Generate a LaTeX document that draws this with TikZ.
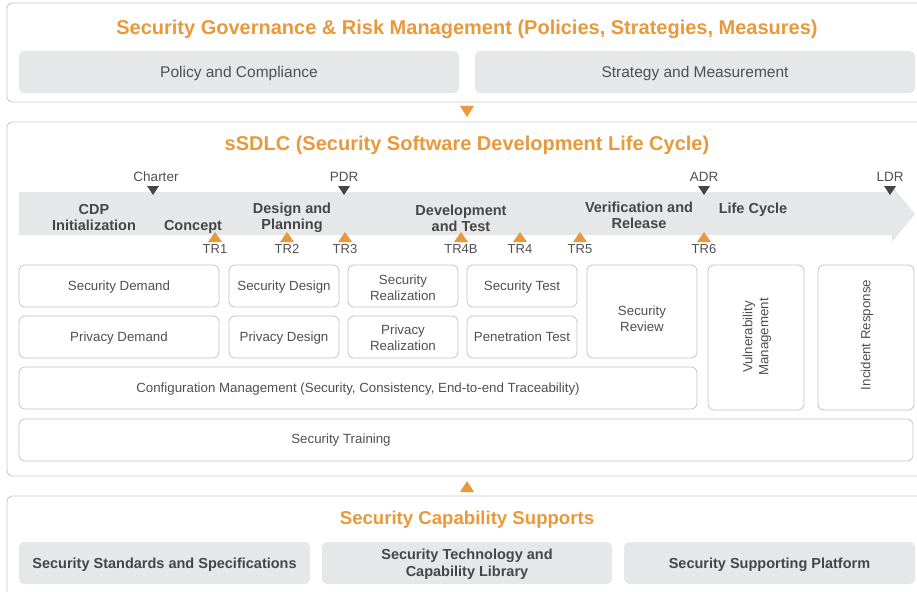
\documentclass[tikz,border=0pt]{standalone}
\usepackage{fontspec}
\setmainfont{Liberation Sans}
\usetikzlibrary{positioning}
\definecolor{org}{RGB}{233,152,58}
\definecolor{lgray}{RGB}{230,231,233}
\definecolor{bgray}{RGB}{196,196,196}
\definecolor{fgray}{RGB}{200,200,200}
\definecolor{tgray}{RGB}{80,80,80}
\definecolor{dgray}{RGB}{70,70,70}
\tikzset{
  frame/.style={draw=fgray, line width=0.9pt, rounded corners=5pt},
  title/.style={text=org, font=\bfseries\fontsize{20}{24}\selectfont, inner sep=0pt, text depth=0pt},
  graybox/.style={fill=lgray, draw=none, rounded corners=5pt, text=tgray, font=\fontsize{15.5}{18}\selectfont, align=center, inner sep=0pt, text depth=0pt},
  graybold/.style={fill=lgray, draw=none, rounded corners=5pt, text=dgray, font=\bfseries\fontsize{14.5}{17}\selectfont, align=center, inner sep=0pt, text depth=0pt},
  wbox/.style={fill=white, draw=bgray, line width=0.8pt, rounded corners=6pt, text=tgray, font=\fontsize{13.3}{16}\selectfont, align=center, inner sep=0pt, text depth=0pt},
  btext/.style={text=tgray, font=\fontsize{13.3}{16}\selectfont, align=center, inner sep=0pt},
  phase/.style={text=dgray, font=\bfseries\fontsize{14.5}{16}\selectfont, align=center, inner sep=0pt},
  mlab/.style={text=tgray, font=\fontsize{13.5}{16}\selectfont, inner sep=0pt},
  trlab/.style={text=tgray, font=\fontsize{13}{16}\selectfont, inner sep=0pt, text depth=0pt},
  dtri/.style={fill=dgray, draw=none},
  otri/.style={fill=org, draw=none},
}
\begin{document}
\begin{tikzpicture}[x=1pt,y=-1pt]
\useasboundingbox (0,0) rectangle (917,591);
% frames
\draw[frame] (7,3) rectangle (930,102);
\draw[frame] (7,122) rectangle (930,476);
\draw[frame] (7,496) rectangle (930,610);
% top section
\node[title] (gov) at (467,27) {Security Governance \& Risk Management (Policies, Strategies, Measures)};
\node[graybox, minimum width=440pt, minimum height=42pt] (pc) at (239,72) {Policy and Compliance};
\node[graybox, minimum width=440pt, minimum height=42pt] (sm) at (695,72) {Strategy and Measurement};
\fill[otri] (460,106) -- (474,106) -- (467,117) -- cycle;
% sSDLC section
\node[title] (sdlc) at (467,143) {sSDLC (Security Software Development Life Cycle)};
\fill[lgray] (19,192) -- (892,192) -- (892,186) -- (915,214) -- (892,242) -- (892,235) -- (19,235) -- cycle;
% milestones
\node[mlab] (charter) at (156,176.5) {Charter};
\node[mlab] (pdr) at (344,176.5) {PDR};
\node[mlab] (adr) at (704,176.5) {ADR};
\node[mlab] (ldr) at (890,176.5) {LDR};
\fill[dtri] (147,186) -- (159,186) -- (153,195) -- cycle;
\fill[dtri] (338,186) -- (350,186) -- (344,195) -- cycle;
\fill[dtri] (698,186) -- (710,186) -- (704,195) -- cycle;
\fill[dtri] (884,186) -- (896,186) -- (890,195) -- cycle;
% phases
\node[phase] (cdp) at (94,218) {CDP\\Initialization};
\node[phase] (concept) at (193,227) {Concept};
\node[phase] (dp) at (292,218) {Design and\\Planning};
\node[phase] (dt) at (461,218) {Development\\and Test};
\node[phase] (vr) at (639,215) {Verification and\\Release};
\node[phase] (lc) at (753,210) {Life Cycle};
% TR markers
\foreach \x/\n/\t in {215/tr1/TR1, 287/tr2/TR2, 345/tr3/TR3, 461/tr4b/TR4B, 520/tr4/TR4, 580/tr5/TR5, 704/tr6/TR6}{
  \fill[otri] (\x-7,242) -- (\x+7,242) -- (\x,232) -- cycle;
  \node[trlab] (\n) at (\x,249) {\t};
}
% boxes
\node[wbox, minimum width=200pt, minimum height=42pt] (sdem) at (119,286) {Security Demand};
\node[wbox, minimum width=200pt, minimum height=42pt] (pdem) at (119,337) {Privacy Demand};
\node[wbox, minimum width=110pt, minimum height=42pt] (sdes) at (284,286) {Security Design};
\node[wbox, minimum width=110pt, minimum height=42pt] (pdes) at (284,337) {Privacy Design};
\node[wbox, minimum width=110pt, minimum height=42pt] (sreal) at (403,286) {};
\node[btext] (srealt) at (403,288) {Security\\Realization};
\node[wbox, minimum width=110pt, minimum height=42pt] (preal) at (403,337) {};
\node[btext] (prealt) at (403,338) {Privacy\\Realization};
\node[wbox, minimum width=110pt, minimum height=42pt] (stest) at (522,286) {Security Test};
\node[wbox, minimum width=110pt, minimum height=42pt] (ptest) at (522,337) {Penetration Test};
\node[wbox, minimum width=110pt, minimum height=93pt] (srev) at (642,311.5) {};
\node[btext] (srevt) at (642,319) {Security\\Review};
\node[wbox, minimum width=678pt, minimum height=42pt] (cm) at (358,388) {Configuration Management (Security, Consistency, End-to-end Traceability)};
\node[wbox, minimum width=96pt, minimum height=145pt] (vm) at (756,337.5) {};
\node[btext, rotate=90] (vmt) at (757,337) {Vulnerability\\Management};
\node[wbox, minimum width=96pt, minimum height=145pt] (ir) at (866,337.5) {};
\node[btext, rotate=90] (irt) at (867,335) {Incident Response};
\node[wbox, minimum width=894pt, minimum height=42pt] (st) at (466,440) {};
\node[btext] (stt) at (341,440) {Security Training};
% bottom section
\fill[otri] (460,492) -- (474,492) -- (467,481) -- cycle;
\node[title, font=\bfseries\fontsize{18.6}{22}\selectfont] (cap) at (467,518) {Security Capability Supports};
\node[graybold, minimum width=291pt, minimum height=42pt] (ss) at (164.5,563) {Security Standards and Specifications};
\node[graybold, minimum width=290pt, minimum height=42pt] (tl) at (467,563) {Security Technology and\\Capability Library};
\node[graybold, minimum width=291pt, minimum height=42pt] (sp) at (769.5,563) {Security Supporting Platform};
\end{tikzpicture}
\end{document}
